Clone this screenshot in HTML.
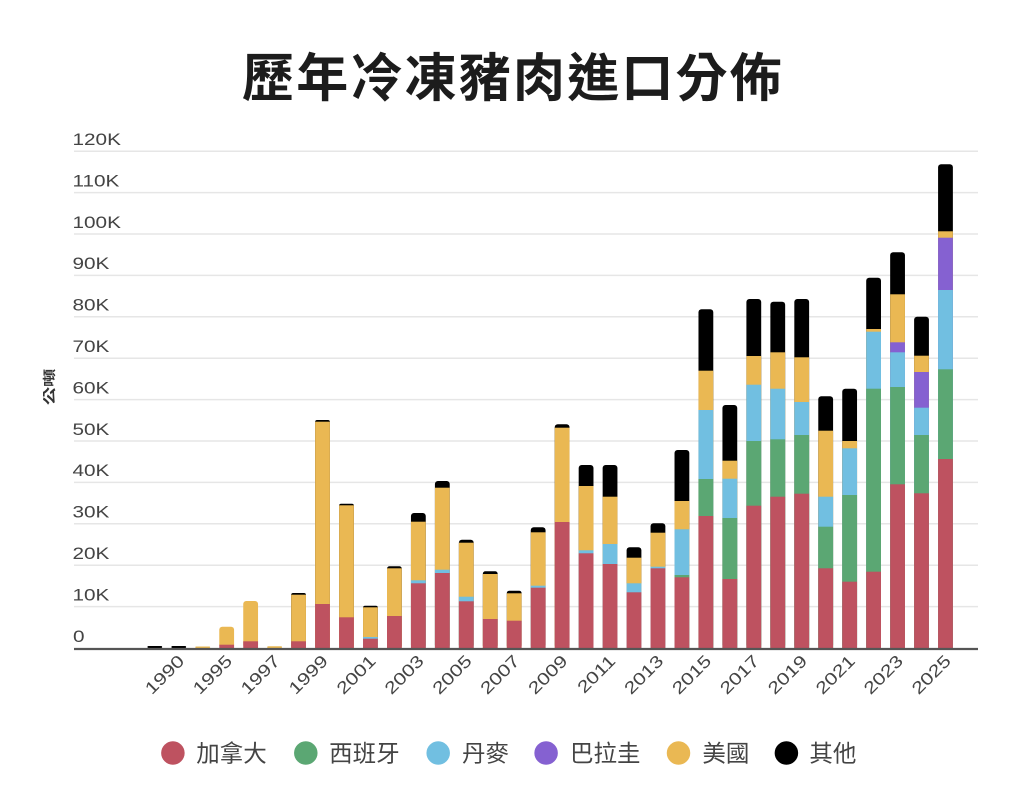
<!DOCTYPE html>
<html>
<head>
<meta charset="utf-8">
<style>
html,body{margin:0;padding:0;background:#fff;}
body{width:1024px;height:811px;overflow:hidden;}
svg{display:block;}
.tk{font-family:"Liberation Sans","Noto Sans CJK TC",sans-serif;font-size:17px;fill:#444;}
.lg{font-family:"Liberation Sans","Noto Sans CJK TC",sans-serif;font-size:23.5px;fill:#444;}
.tt{font-family:"Liberation Sans","Noto Sans CJK TC",sans-serif;font-size:52px;font-weight:bold;fill:#1c1c1c;}
.yt{font-family:"Liberation Sans","Noto Sans CJK TC",sans-serif;font-size:13px;font-weight:bold;fill:#333;}
</style>
</head>
<body>
<svg width="1024" height="811" viewBox="0 0 1024 811" xmlns="http://www.w3.org/2000/svg">
<rect x="0" y="0" width="1024" height="811" fill="#fff"/>

<!-- Title -->
<text class="tt" y="96.5" x="242 296.2 350.4 404.6 458.8 513 567.2 621.4 675.6 729.8">歷年冷凍豬肉進口分佈</text>

<!-- gridlines -->
<g stroke="#e6e6e6" stroke-width="1.5">
<line x1="74" x2="978" y1="606.6" y2="606.6"/>
<line x1="74" x2="978" y1="565.2" y2="565.2"/>
<line x1="74" x2="978" y1="523.8" y2="523.8"/>
<line x1="74" x2="978" y1="482.4" y2="482.4"/>
<line x1="74" x2="978" y1="441" y2="441"/>
<line x1="74" x2="978" y1="399.6" y2="399.6"/>
<line x1="74" x2="978" y1="358.2" y2="358.2"/>
<line x1="74" x2="978" y1="316.8" y2="316.8"/>
<line x1="74" x2="978" y1="275.4" y2="275.4"/>
<line x1="74" x2="978" y1="234" y2="234"/>
<line x1="74" x2="978" y1="192.6" y2="192.6"/>
<line x1="74" x2="978" y1="151.2" y2="151.2"/>
</g>

<!-- y tick labels -->
<g class="tk">
<text transform="translate(73,641.8) scale(1.22,1)">0</text>
<text transform="translate(72.5,600.4) scale(1.22,1)">10K</text>
<text transform="translate(72.5,559) scale(1.22,1)">20K</text>
<text transform="translate(72.5,517.6) scale(1.22,1)">30K</text>
<text transform="translate(72.5,476.2) scale(1.22,1)">40K</text>
<text transform="translate(72.5,434.8) scale(1.22,1)">50K</text>
<text transform="translate(72.5,393.4) scale(1.22,1)">60K</text>
<text transform="translate(72.5,352) scale(1.22,1)">70K</text>
<text transform="translate(72.5,310.6) scale(1.22,1)">80K</text>
<text transform="translate(72.5,269.2) scale(1.22,1)">90K</text>
<text transform="translate(72.5,227.8) scale(1.22,1)">100K</text>
<text transform="translate(72.5,186.4) scale(1.22,1)">110K</text>
<text transform="translate(72.5,145) scale(1.22,1)">120K</text>
</g>

<!-- y axis title -->
<text class="yt" text-anchor="middle" transform="translate(54,387) rotate(-90) scale(1.4,1)">公噸</text>

<!-- bars -->
<g>
<rect x="147.4" y="646" width="14.8" height="2" rx="1" fill="#000"/>
<rect x="171.36" y="646" width="14.8" height="2" rx="1" fill="#000"/>
<rect x="195.32" y="646.5" width="14.8" height="1.5" rx="0.7" fill="#eab853"/>
<rect x="219.28" y="626.7" width="14.8" height="21.3" rx="3" fill="#eab853"/>
<rect x="219.28" y="644.7" width="14.8" height="3.3" fill="#be5260"/>
<rect x="243.24" y="601" width="14.8" height="47" rx="3" fill="#eab853"/>
<rect x="243.24" y="641.3" width="14.8" height="6.7" fill="#be5260"/>
<rect x="267.2" y="646.3" width="14.8" height="1.7" rx="0.8" fill="#eab853"/>
<rect x="291.16" y="593" width="14.8" height="55" rx="2" fill="#000"/>
<rect x="291.16" y="594.7" width="14.8" height="53.3" fill="#eab853"/>
<rect x="291.16" y="641.3" width="14.8" height="6.7" fill="#be5260"/>
<rect x="315.12" y="420" width="14.8" height="228" rx="2" fill="#000"/>
<rect x="315.12" y="421.7" width="14.8" height="226.3" fill="#eab853"/>
<rect x="315.12" y="604" width="14.8" height="44" fill="#be5260"/>
<rect x="339.08" y="503.7" width="14.8" height="144.3" rx="2" fill="#000"/>
<rect x="339.08" y="505.3" width="14.8" height="142.7" fill="#eab853"/>
<rect x="339.08" y="617.3" width="14.8" height="30.7" fill="#be5260"/>
<rect x="363.04" y="605.7" width="14.8" height="42.3" rx="2" fill="#000"/>
<rect x="363.04" y="607.3" width="14.8" height="40.7" fill="#eab853"/>
<rect x="363.04" y="637" width="14.8" height="11" fill="#71bfe1"/>
<rect x="363.04" y="638.7" width="14.8" height="9.3" fill="#be5260"/>
<rect x="387" y="566.3" width="14.8" height="81.7" rx="2.5" fill="#000"/>
<rect x="387" y="568.3" width="14.8" height="79.7" fill="#eab853"/>
<rect x="387" y="616" width="14.8" height="32" fill="#be5260"/>
<rect x="410.96" y="513" width="14.8" height="135" rx="3" fill="#000"/>
<rect x="410.96" y="521.7" width="14.8" height="126.3" fill="#eab853"/>
<rect x="410.96" y="580.3" width="14.8" height="67.7" fill="#71bfe1"/>
<rect x="410.96" y="583.3" width="14.8" height="64.7" fill="#be5260"/>
<rect x="434.92" y="481" width="14.8" height="167" rx="3" fill="#000"/>
<rect x="434.92" y="487.7" width="14.8" height="160.3" fill="#eab853"/>
<rect x="434.92" y="569.7" width="14.8" height="78.3" fill="#71bfe1"/>
<rect x="434.92" y="573" width="14.8" height="75" fill="#be5260"/>
<rect x="458.88" y="539.7" width="14.8" height="108.3" rx="3" fill="#000"/>
<rect x="458.88" y="542.7" width="14.8" height="105.3" fill="#eab853"/>
<rect x="458.88" y="596.7" width="14.8" height="51.3" fill="#71bfe1"/>
<rect x="458.88" y="601.3" width="14.8" height="46.7" fill="#be5260"/>
<rect x="482.84" y="571.3" width="14.8" height="76.7" rx="2.5" fill="#000"/>
<rect x="482.84" y="574" width="14.8" height="74" fill="#eab853"/>
<rect x="482.84" y="619" width="14.8" height="29" fill="#be5260"/>
<rect x="506.8" y="590.7" width="14.8" height="57.3" rx="2.5" fill="#000"/>
<rect x="506.8" y="593.3" width="14.8" height="54.7" fill="#eab853"/>
<rect x="506.8" y="620.7" width="14.8" height="27.3" fill="#be5260"/>
<rect x="530.76" y="527.3" width="14.8" height="120.7" rx="3" fill="#000"/>
<rect x="530.76" y="532.3" width="14.8" height="115.7" fill="#eab853"/>
<rect x="530.76" y="585.7" width="14.8" height="62.3" fill="#71bfe1"/>
<rect x="530.76" y="587.7" width="14.8" height="60.3" fill="#be5260"/>
<rect x="554.72" y="424.3" width="14.8" height="223.7" rx="3" fill="#000"/>
<rect x="554.72" y="427.7" width="14.8" height="220.3" fill="#eab853"/>
<rect x="554.72" y="522" width="14.8" height="126" fill="#be5260"/>
<rect x="578.68" y="465" width="14.8" height="183" rx="3" fill="#000"/>
<rect x="578.68" y="486" width="14.8" height="162" fill="#eab853"/>
<rect x="578.68" y="550.3" width="14.8" height="97.7" fill="#71bfe1"/>
<rect x="578.68" y="553.3" width="14.8" height="94.7" fill="#be5260"/>
<rect x="602.64" y="465" width="14.8" height="183" rx="3" fill="#000"/>
<rect x="602.64" y="496.7" width="14.8" height="151.3" fill="#eab853"/>
<rect x="602.64" y="544" width="14.8" height="104" fill="#71bfe1"/>
<rect x="602.64" y="564" width="14.8" height="84" fill="#be5260"/>
<rect x="626.6" y="547.3" width="14.8" height="100.7" rx="3" fill="#000"/>
<rect x="626.6" y="557.7" width="14.8" height="90.3" fill="#eab853"/>
<rect x="626.6" y="583.3" width="14.8" height="64.7" fill="#71bfe1"/>
<rect x="626.6" y="592.3" width="14.8" height="55.7" fill="#be5260"/>
<rect x="650.56" y="523.3" width="14.8" height="124.7" rx="3" fill="#000"/>
<rect x="650.56" y="532.7" width="14.8" height="115.3" fill="#eab853"/>
<rect x="650.56" y="566.7" width="14.8" height="81.3" fill="#71bfe1"/>
<rect x="650.56" y="568.3" width="14.8" height="79.7" fill="#be5260"/>
<rect x="674.52" y="450" width="14.8" height="198" rx="3" fill="#000"/>
<rect x="674.52" y="501" width="14.8" height="147" fill="#eab853"/>
<rect x="674.52" y="529.3" width="14.8" height="118.7" fill="#71bfe1"/>
<rect x="674.52" y="575" width="14.8" height="73" fill="#5ba773"/>
<rect x="674.52" y="577.3" width="14.8" height="70.7" fill="#be5260"/>
<rect x="698.48" y="309.3" width="14.8" height="338.7" rx="3" fill="#000"/>
<rect x="698.48" y="370.7" width="14.8" height="277.3" fill="#eab853"/>
<rect x="698.48" y="410" width="14.8" height="238" fill="#71bfe1"/>
<rect x="698.48" y="479" width="14.8" height="169" fill="#5ba773"/>
<rect x="698.48" y="516" width="14.8" height="132" fill="#be5260"/>
<rect x="722.44" y="405" width="14.8" height="243" rx="3" fill="#000"/>
<rect x="722.44" y="460.7" width="14.8" height="187.3" fill="#eab853"/>
<rect x="722.44" y="478.7" width="14.8" height="169.3" fill="#71bfe1"/>
<rect x="722.44" y="518" width="14.8" height="130" fill="#5ba773"/>
<rect x="722.44" y="579" width="14.8" height="69" fill="#be5260"/>
<rect x="746.4" y="299" width="14.8" height="349" rx="3" fill="#000"/>
<rect x="746.4" y="356" width="14.8" height="292" fill="#eab853"/>
<rect x="746.4" y="384.7" width="14.8" height="263.3" fill="#71bfe1"/>
<rect x="746.4" y="441" width="14.8" height="207" fill="#5ba773"/>
<rect x="746.4" y="505.7" width="14.8" height="142.3" fill="#be5260"/>
<rect x="770.36" y="301.7" width="14.8" height="346.3" rx="3" fill="#000"/>
<rect x="770.36" y="352.3" width="14.8" height="295.7" fill="#eab853"/>
<rect x="770.36" y="388.7" width="14.8" height="259.3" fill="#71bfe1"/>
<rect x="770.36" y="439.3" width="14.8" height="208.7" fill="#5ba773"/>
<rect x="770.36" y="496.7" width="14.8" height="151.3" fill="#be5260"/>
<rect x="794.32" y="299" width="14.8" height="349" rx="3" fill="#000"/>
<rect x="794.32" y="357.3" width="14.8" height="290.7" fill="#eab853"/>
<rect x="794.32" y="402" width="14.8" height="246" fill="#71bfe1"/>
<rect x="794.32" y="435" width="14.8" height="213" fill="#5ba773"/>
<rect x="794.32" y="493.7" width="14.8" height="154.3" fill="#be5260"/>
<rect x="818.28" y="396.3" width="14.8" height="251.7" rx="3" fill="#000"/>
<rect x="818.28" y="430.7" width="14.8" height="217.3" fill="#eab853"/>
<rect x="818.28" y="496.7" width="14.8" height="151.3" fill="#71bfe1"/>
<rect x="818.28" y="526.7" width="14.8" height="121.3" fill="#5ba773"/>
<rect x="818.28" y="568.3" width="14.8" height="79.7" fill="#be5260"/>
<rect x="842.24" y="388.7" width="14.8" height="259.3" rx="3" fill="#000"/>
<rect x="842.24" y="441" width="14.8" height="207" fill="#eab853"/>
<rect x="842.24" y="448.3" width="14.8" height="199.7" fill="#71bfe1"/>
<rect x="842.24" y="495" width="14.8" height="153" fill="#5ba773"/>
<rect x="842.24" y="581.7" width="14.8" height="66.3" fill="#be5260"/>
<rect x="866.2" y="277.7" width="14.8" height="370.3" rx="3" fill="#000"/>
<rect x="866.2" y="329" width="14.8" height="319" fill="#eab853"/>
<rect x="866.2" y="331.7" width="14.8" height="316.3" fill="#71bfe1"/>
<rect x="866.2" y="388.7" width="14.8" height="259.3" fill="#5ba773"/>
<rect x="866.2" y="571.7" width="14.8" height="76.3" fill="#be5260"/>
<rect x="890.16" y="252.3" width="14.8" height="395.7" rx="3" fill="#000"/>
<rect x="890.16" y="294.3" width="14.8" height="353.7" fill="#eab853"/>
<rect x="890.16" y="342.3" width="14.8" height="305.7" fill="#8561d1"/>
<rect x="890.16" y="352.3" width="14.8" height="295.7" fill="#71bfe1"/>
<rect x="890.16" y="387" width="14.8" height="261" fill="#5ba773"/>
<rect x="890.16" y="484.3" width="14.8" height="163.7" fill="#be5260"/>
<rect x="914.12" y="316.7" width="14.8" height="331.3" rx="3" fill="#000"/>
<rect x="914.12" y="355.7" width="14.8" height="292.3" fill="#eab853"/>
<rect x="914.12" y="372" width="14.8" height="276" fill="#8561d1"/>
<rect x="914.12" y="407.7" width="14.8" height="240.3" fill="#71bfe1"/>
<rect x="914.12" y="435" width="14.8" height="213" fill="#5ba773"/>
<rect x="914.12" y="493.3" width="14.8" height="154.7" fill="#be5260"/>
<rect x="938.08" y="164.3" width="14.8" height="483.7" rx="3" fill="#000"/>
<rect x="938.08" y="231.3" width="14.8" height="416.7" fill="#eab853"/>
<rect x="938.08" y="237.7" width="14.8" height="410.3" fill="#8561d1"/>
<rect x="938.08" y="290" width="14.8" height="358" fill="#71bfe1"/>
<rect x="938.08" y="369.3" width="14.8" height="278.7" fill="#5ba773"/>
<rect x="938.08" y="459" width="14.8" height="189" fill="#be5260"/>
</g>

<!-- x axis line -->
<line x1="74" x2="978" y1="649" y2="649" stroke="#555" stroke-width="2.2"/>

<!-- x tick labels -->
<g class="tk" text-anchor="end">
<text transform="translate(185.3,662) rotate(-45) scale(1.25,1)">1990</text>
<text transform="translate(233.2,662) rotate(-45) scale(1.25,1)">1995</text>
<text transform="translate(281.1,662) rotate(-45) scale(1.25,1)">1997</text>
<text transform="translate(329,662) rotate(-45) scale(1.25,1)">1999</text>
<text transform="translate(376.9,662) rotate(-45) scale(1.25,1)">2001</text>
<text transform="translate(424.9,662) rotate(-45) scale(1.25,1)">2003</text>
<text transform="translate(472.8,662) rotate(-45) scale(1.25,1)">2005</text>
<text transform="translate(520.7,662) rotate(-45) scale(1.25,1)">2007</text>
<text transform="translate(568.6,662) rotate(-45) scale(1.25,1)">2009</text>
<text transform="translate(616.5,662) rotate(-45) scale(1.25,1)">2011</text>
<text transform="translate(664.5,662) rotate(-45) scale(1.25,1)">2013</text>
<text transform="translate(712.4,662) rotate(-45) scale(1.25,1)">2015</text>
<text transform="translate(760.3,662) rotate(-45) scale(1.25,1)">2017</text>
<text transform="translate(808.2,662) rotate(-45) scale(1.25,1)">2019</text>
<text transform="translate(856.1,662) rotate(-45) scale(1.25,1)">2021</text>
<text transform="translate(904.1,662) rotate(-45) scale(1.25,1)">2023</text>
<text transform="translate(952,662) rotate(-45) scale(1.25,1)">2025</text>
</g>

<!-- legend -->
<g>
<circle cx="172.9" cy="753" r="11.75" fill="#be5260"/>
<text class="lg" x="196.3" y="761.5">加拿大</text>
<circle cx="305.8" cy="753" r="11.75" fill="#5ba773"/>
<text class="lg" x="329.1" y="761.5">西班牙</text>
<circle cx="438.2" cy="753" r="11.75" fill="#71bfe1"/>
<text class="lg" x="462" y="761.5">丹麥</text>
<circle cx="546.1" cy="753" r="11.75" fill="#8561d1"/>
<text class="lg" x="570" y="761.5">巴拉圭</text>
<circle cx="678.5" cy="753" r="11.75" fill="#eab853"/>
<text class="lg" x="702.4" y="761.5">美國</text>
<circle cx="786.4" cy="753" r="11.75" fill="#000"/>
<text class="lg" x="809.4" y="761.5">其他</text>
</g>
</svg>
</body>
</html>
